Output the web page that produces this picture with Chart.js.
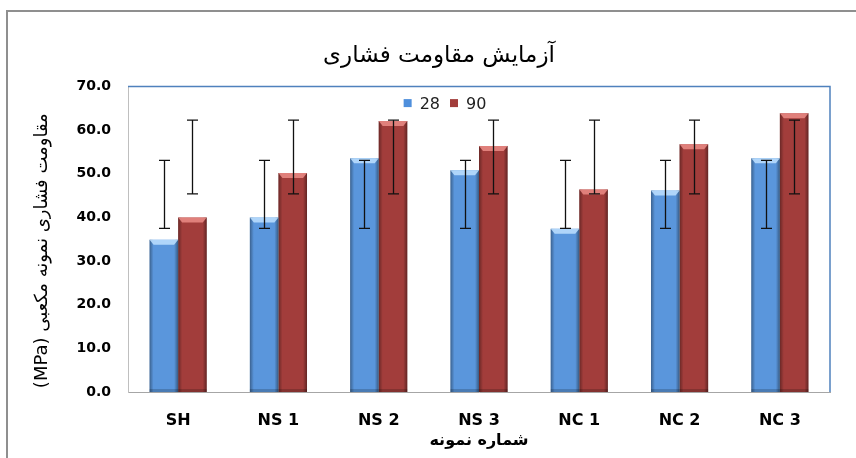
<!DOCTYPE html>
<html>
<head>
<meta charset="utf-8">
<script src="https://cdn.jsdelivr.net/npm/chart.js@4.4.1/dist/chart.umd.min.js"></script>
<style>
    html, body { margin: 0; padding: 0; background: #fff; overflow: hidden; }
    #frame {
        position: absolute; left: 6px; top: 10px;
        width: 900px; height: 500px;
        border-left: 2px solid #8f8f8f; border-top: 2px solid #8f8f8f;
        background: #fff;
    }
    #chart { position: absolute; left: 0; top: 0; }
</style>
</head>
<body>
<div id="frame"><canvas id="chart" width="862" height="446"></canvas></div>
<script>
const categories = ['SH', 'NS 1', 'NS 2', 'NS 3', 'NC 1', 'NC 2', 'NC 3'];
const seriesNames = ['28', '90'];
const strength28 = [34.9, 40.0, 53.6, 50.8, 37.4, 46.2, 53.6];
const strength90 = [40.0, 50.2, 62.1, 56.4, 46.4, 56.8, 63.9];
// error bars as drawn in the original (same range for every sample)
const err28Low = [37.5, 37.5, 37.5, 37.5, 37.5, 37.5, 37.5];
const err28High = [53.1, 53.1, 53.1, 53.1, 53.1, 53.1, 53.1];
const err90Low = [45.4, 45.4, 45.4, 45.4, 45.4, 45.4, 45.4];
const err90High = [62.3, 62.3, 62.3, 62.3, 62.3, 62.3, 62.3];
const yMin = 0, yMax = 70, yStep = 10;

const chartTitle = 'آزمایش مقاومت فشاری';
const xTitle = 'شماره نمونه';
// RTL embedding so "(MPa)" ends up at the bottom; leading spaces nudge it down a little
const yTitle = '\u202B\u00A0\u00A0\u00A0\u00A0مقاومت فشاری نمونه مکعبی (MPa)\u202C';

const barColors = ['#5a96dc', '#a23d3b'];
const bevelColors = ['rgba(190,225,255,0.85)', 'rgba(235,140,135,0.85)'];
const legendColors = ['#4f8fdc', '#a23d3b'];
const errors = [[err28Low, err28High], [err90Low, err90High]];

const plotFrame = {
    id: 'plotFrame',
    beforeDatasetsDraw(chart) {
        const {ctx, chartArea: a} = chart;
        ctx.save();
        ctx.strokeStyle = '#4f81bd';
        ctx.lineWidth = 1.5;
        ctx.beginPath();
        ctx.moveTo(a.left, a.top);
        ctx.lineTo(a.right, a.top);
        ctx.lineTo(a.right, a.bottom);
        ctx.stroke();
        ctx.restore();
    }
};

const bevel = {
    id: 'bevel',
    afterDatasetsDraw(chart) {
        const ctx = chart.ctx;
        ctx.save();
        chart.data.datasets.forEach((ds, i) => {
            chart.getDatasetMeta(i).data.forEach(bar => {
                const {x, y, base, width} = bar.getProps(['x', 'y', 'base', 'width'], true);
                const l = x - width / 2, r = x + width / 2;
                let g = ctx.createLinearGradient(l, 0, r, 0);
                g.addColorStop(0, 'rgba(0,0,0,0.35)');
                g.addColorStop(0.14, 'rgba(0,0,0,0)');
                g.addColorStop(0.86, 'rgba(0,0,0,0)');
                g.addColorStop(1, 'rgba(0,0,0,0.4)');
                ctx.fillStyle = g;
                ctx.fillRect(l, y, width, base - y);
                ctx.fillStyle = bevelColors[i];
                ctx.beginPath();
                ctx.moveTo(l, y);
                ctx.lineTo(r, y);
                ctx.lineTo(r - 4, y + 5);
                ctx.lineTo(l + 4, y + 5);
                ctx.closePath();
                ctx.fill();
                ctx.fillStyle = 'rgba(0,0,0,0.18)';
                ctx.fillRect(l, base - 3, width, 3);
            });
        });
        ctx.restore();
    }
};

const errorBars = {
    id: 'errorBars',
    afterDatasetsDraw(chart) {
        const {ctx, scales: {y}} = chart;
        ctx.save();
        ctx.strokeStyle = '#111';
        ctx.lineWidth = 1.3;
        chart.data.datasets.forEach((ds, i) => {
            const [lo, hi] = errors[i];
            chart.getDatasetMeta(i).data.forEach((bar, j) => {
                const x = Math.round(bar.x) + 0.5;
                const y1 = y.getPixelForValue(hi[j]);
                const y2 = y.getPixelForValue(lo[j]);
                ctx.beginPath();
                ctx.moveTo(x, y1);
                ctx.lineTo(x, y2);
                ctx.moveTo(x - 5.5, y1);
                ctx.lineTo(x + 5.5, y1);
                ctx.moveTo(x - 5.5, y2);
                ctx.lineTo(x + 5.5, y2);
                ctx.stroke();
            });
        });
        ctx.restore();
    }
};

// legend sits inside the plot area, a little left of centre
const innerLegend = {
    id: 'innerLegend',
    afterDatasetsDraw(chart) {
        const {ctx, chartArea: a} = chart;
        const cx = (a.left + a.right) / 2 - 34;
        const cy = a.top + 17;
        ctx.save();
        ctx.font = '16px "DejaVu Sans"';
        ctx.textBaseline = 'middle';
        ctx.textAlign = 'left';
        const items = chart.data.datasets.map((ds, i) => ({text: ds.label, color: legendColors[i], w: 16 + ctx.measureText(ds.label).width}));
        const total = items.reduce((s, it) => s + it.w, 0) + 10 * (items.length - 1);
        let x = cx - total / 2;
        items.forEach(it => {
            ctx.fillStyle = it.color;
            ctx.fillRect(x, cy - 4.5, 8, 8);
            ctx.fillStyle = '#222';
            ctx.fillText(it.text, x + 16, cy + 1);
            x += it.w + 10;
        });
        ctx.restore();
    }
};

new Chart(document.getElementById('chart'), {
    type: 'bar',
    plugins: [plotFrame, bevel, errorBars, innerLegend],
    data: {
        labels: categories,
        datasets: [
            {label: seriesNames[0], data: strength28, backgroundColor: barColors[0]},
            {label: seriesNames[1], data: strength90, backgroundColor: barColors[1]}
        ]
    },
    options: {
        responsive: false,
        animation: false,
        datasets: {
            bar: {categoryPercentage: 0.57, barPercentage: 1.0}
        },
        layout: {padding: 0},
        plugins: {
            tooltip: {enabled: false},
            legend: {display: false},
            title: {
                display: true,
                text: chartTitle,
                color: '#000',
                font: {family: 'DejaVu Sans', size: 23, weight: 'normal'},
                padding: {top: 30, bottom: 17}
            }
        },
        scales: {
            x: {
                grid: {display: false, drawTicks: false},
                border: {display: true, color: '#a6a6a6'},
                ticks: {
                    padding: 19,
                    color: '#000',
                    font: {family: 'DejaVu Sans', size: 16, weight: 'bold'}
                },
                title: {
                    display: true,
                    text: xTitle,
                    color: '#000',
                    font: {family: 'DejaVu Sans', size: 16, weight: 'bold'},
                    padding: {top: 0, bottom: 8}
                },
                afterFit(scale) { scale.height = 66; }
            },
            y: {
                min: yMin,
                max: yMax,
                grid: {display: false, drawTicks: false},
                border: {display: true, color: '#bfbfbf'},
                ticks: {
                    stepSize: yStep,
                    padding: 17,
                    color: '#000',
                    font: {family: 'DejaVu Sans', size: 14, weight: 'bold'},
                    callback: v => v.toFixed(1)
                },
                title: {
                    display: true,
                    text: yTitle,
                    color: '#000',
                    font: {family: 'DejaVu Sans', size: 18},
                    padding: {top: 24, bottom: 0}
                },
                afterFit(scale) { scale.width = 120; }
            },
            // empty right-hand strip so the title stays centred on the whole frame
            rightGap: {
                type: 'linear',
                position: 'right',
                display: true,
                grid: {display: false, drawTicks: false},
                border: {display: false},
                ticks: {display: false},
                afterFit(scale) { scale.width = 40; }
            }
        }
    }
});
</script>
</body>
</html>
